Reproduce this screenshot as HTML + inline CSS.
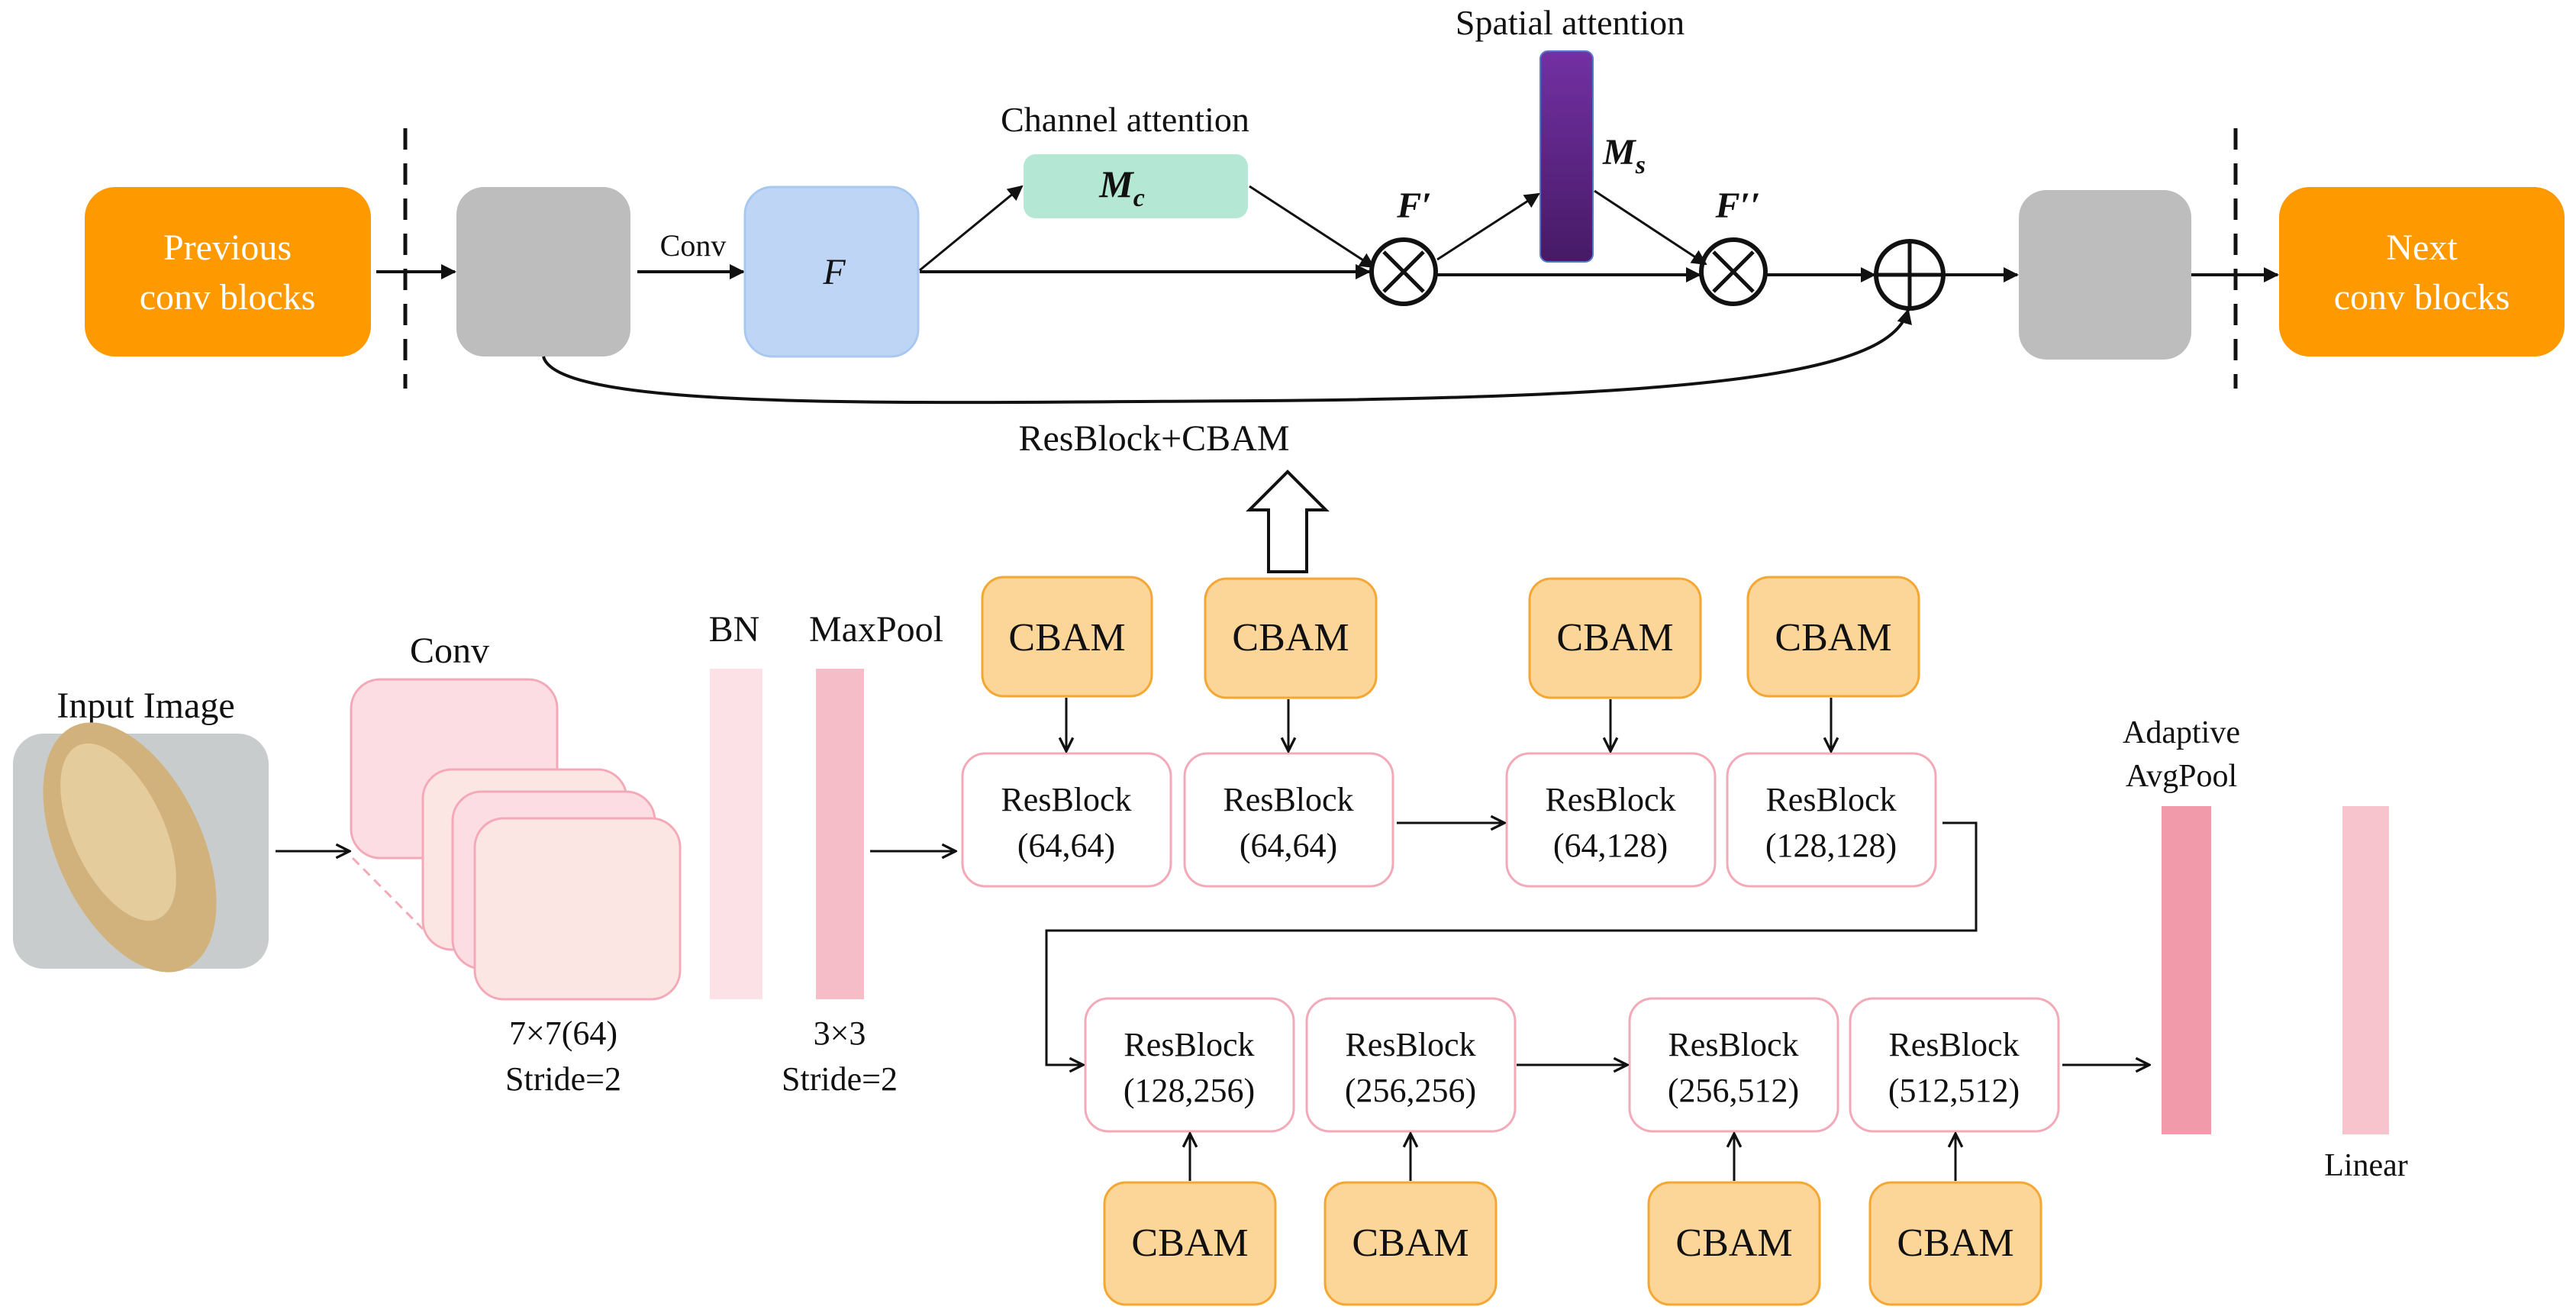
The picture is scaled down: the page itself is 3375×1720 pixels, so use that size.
<!DOCTYPE html>
<html><head><meta charset="utf-8"><style>
html,body{margin:0;padding:0;background:#fff;}
svg{display:block;font-family:"Liberation Serif","Times New Roman",serif;}
svg text{font-family:"Liberation Serif","Times New Roman",serif !important;fill:#111;}
</style></head><body>
<svg width="3375" height="1720" viewBox="0 0 3375 1720" xmlns="http://www.w3.org/2000/svg" font-family="Liberation Serif, Times New Roman, serif">
<defs>
<marker id="a" viewBox="0 0 10 10" refX="9" refY="5" markerWidth="20" markerHeight="20" markerUnits="userSpaceOnUse" orient="auto"><path d="M0,0 L10,5 L0,10 z" fill="#111"/></marker>
<marker id="o" viewBox="0 0 10 10" refX="9" refY="5" markerWidth="22" markerHeight="22" markerUnits="userSpaceOnUse" orient="auto"><path d="M1,1 L9,5 L1,9" fill="none" stroke="#111" stroke-width="1.5"/></marker>
<linearGradient id="pg" x1="0" y1="0" x2="0" y2="1"><stop offset="0" stop-color="#7330A3"/><stop offset="1" stop-color="#461A66"/></linearGradient>
</defs>

<!-- TOP -->
<rect x="111" y="245" width="375" height="222" rx="40" fill="#FF9900"/>
<text x="298" y="340" font-size="48" text-anchor="middle" style="fill:#fff" font-family="Liberation Serif, serif">Previous</text>
<text x="298" y="405" font-size="48" text-anchor="middle" style="fill:#fff" font-family="Liberation Serif, serif">conv blocks</text>
<line x1="531" y1="168" x2="531" y2="509" stroke="#111" stroke-width="5" stroke-dasharray="28,18"/>
<line x1="493" y1="356" x2="596" y2="356" stroke="#111" stroke-width="4" marker-end="url(#a)"/>
<rect x="598" y="245" width="228" height="222" rx="36" fill="#BDBDBD"/>
<text x="908" y="335" font-size="40" text-anchor="middle" font-family="Liberation Serif, serif">Conv</text>
<line x1="835" y1="356" x2="974" y2="356" stroke="#111" stroke-width="4" marker-end="url(#a)"/>
<rect x="976" y="245" width="227" height="222" rx="36" fill="#BFD5F5" stroke="#A9C8F0" stroke-width="3"/>
<text x="1093" y="372" font-size="48" font-style="italic" text-anchor="middle" font-family="Liberation Serif, serif">F</text>
<text x="1474" y="172" font-size="46" text-anchor="middle" font-family="Liberation Serif, serif">Channel attention</text>
<rect x="1341" y="202" width="294" height="84" rx="16" fill="#B5E8D4"/>
<text x="1470" y="258" font-size="50" font-weight="bold" font-style="italic" text-anchor="middle" font-family="Liberation Serif, serif">M<tspan font-size="34" dy="12">c</tspan></text>
<line x1="1205" y1="354" x2="1339" y2="244" stroke="#111" stroke-width="3" marker-end="url(#a)"/>
<line x1="1205" y1="356" x2="1794" y2="356" stroke="#111" stroke-width="4" marker-end="url(#a)"/>
<line x1="1637" y1="244" x2="1800" y2="350" stroke="#111" stroke-width="3" marker-end="url(#a)"/>
<text x="2057" y="45" font-size="46" text-anchor="middle" font-family="Liberation Serif, serif">Spatial attention</text>
<rect x="2018" y="67" width="69" height="276" rx="10" fill="url(#pg)" stroke="#5577cc" stroke-width="2"/>
<text x="2100" y="215" font-size="48" font-weight="bold" font-style="italic" font-family="Liberation Serif, serif">M<tspan font-size="34" dy="12">s</tspan></text>
<text x="1853" y="285" font-size="48" font-weight="bold" font-style="italic" text-anchor="middle" font-family="Liberation Serif, serif">F′</text>
<text x="2277" y="285" font-size="48" font-weight="bold" font-style="italic" text-anchor="middle" font-family="Liberation Serif, serif">F′′</text>
<g stroke="#111" stroke-width="6" fill="#fff">
<circle cx="1839" cy="356" r="42"/>
<circle cx="2271" cy="356" r="42"/>
<circle cx="2502" cy="360" r="44"/>
</g>
<g stroke="#111" stroke-width="5">
<line x1="1813" y1="330" x2="1865" y2="382"/><line x1="1865" y1="330" x2="1813" y2="382"/>
<line x1="2245" y1="330" x2="2297" y2="382"/><line x1="2297" y1="330" x2="2245" y2="382"/>
<line x1="2458" y1="360" x2="2546" y2="360"/><line x1="2502" y1="316" x2="2502" y2="404"/>
</g>
<line x1="1883" y1="340" x2="2016" y2="254" stroke="#111" stroke-width="3" marker-end="url(#a)"/>
<line x1="1883" y1="360" x2="2227" y2="360" stroke="#111" stroke-width="4" marker-end="url(#a)"/>
<line x1="2089" y1="250" x2="2235" y2="346" stroke="#111" stroke-width="3" marker-end="url(#a)"/>
<line x1="2315" y1="360" x2="2456" y2="360" stroke="#111" stroke-width="4" marker-end="url(#a)"/>
<line x1="2546" y1="360" x2="2643" y2="360" stroke="#111" stroke-width="4" marker-end="url(#a)"/>
<path d="M712,467 C730,540 1200,527 1650,525 C2300,520 2480,480 2500,406" fill="none" stroke="#111" stroke-width="4" marker-end="url(#a)"/>
<rect x="2645" y="249" width="226" height="222" rx="36" fill="#BDBDBD"/>
<line x1="2929" y1="168" x2="2929" y2="509" stroke="#111" stroke-width="5" stroke-dasharray="28,18"/>
<line x1="2871" y1="360" x2="2984" y2="360" stroke="#111" stroke-width="4" marker-end="url(#a)"/>
<rect x="2986" y="245" width="374" height="222" rx="40" fill="#FF9900"/>
<text x="3173" y="340" font-size="48" text-anchor="middle" style="fill:#fff" font-family="Liberation Serif, serif">Next</text>
<text x="3173" y="405" font-size="48" text-anchor="middle" style="fill:#fff" font-family="Liberation Serif, serif">conv blocks</text>
<text x="1512" y="590" font-size="48" text-anchor="middle" font-family="Liberation Serif, serif">ResBlock+CBAM</text>
<path d="M1662,749 L1662,668 L1637,668 L1687,618 L1737,668 L1712,668 L1712,749 Z" fill="#fff" stroke="#111" stroke-width="4"/>

<!-- BOTTOM LEFT -->
<text x="191" y="940" font-size="48" text-anchor="middle" font-family="Liberation Serif, serif">Input Image</text>
<rect x="17" y="961" width="335" height="308" rx="40" fill="#C8CCCC"/>
<ellipse cx="170" cy="1110" rx="95" ry="175" transform="rotate(-25 170 1110)" fill="#D2B27C"/>
<ellipse cx="155" cy="1090" rx="60" ry="125" transform="rotate(-25 155 1090)" fill="#E4CC9C"/>
<line x1="361" y1="1115" x2="458" y2="1115" stroke="#111" stroke-width="3" marker-end="url(#o)"/>
<text x="589" y="868" font-size="48" text-anchor="middle" font-family="Liberation Serif, serif">Conv</text>
<rect x="460" y="890" width="270" height="234" rx="38" fill="#FBDDE3" stroke="#F4A9B8" stroke-width="3"/>
<line x1="462" y1="1124" x2="554" y2="1217" stroke="#F4A9B8" stroke-width="3" stroke-dasharray="12,8"/>
<rect x="554" y="1008" width="267" height="236" rx="38" fill="#FCE6E4" stroke="#F4A9B8" stroke-width="3"/>
<rect x="593" y="1037" width="265" height="232" rx="38" fill="#FBDDE3" stroke="#F4A9B8" stroke-width="3"/>
<rect x="622" y="1072" width="269" height="237" rx="38" fill="#FCE6E4" stroke="#F4A9B8" stroke-width="3"/>
<text x="738" y="1368" font-size="44" text-anchor="middle" font-family="Liberation Serif, serif">7×7(64)</text>
<text x="738" y="1428" font-size="44" text-anchor="middle" font-family="Liberation Serif, serif">Stride=2</text>
<text x="962" y="840" font-size="48" text-anchor="middle" font-family="Liberation Serif, serif">BN</text>
<rect x="930" y="876" width="69" height="433" fill="#FCE1E6"/>
<text x="1148" y="840" font-size="48" text-anchor="middle" font-family="Liberation Serif, serif">MaxPool</text>
<rect x="1069" y="876" width="63" height="433" fill="#F4BDC8"/>
<text x="1100" y="1368" font-size="44" text-anchor="middle" font-family="Liberation Serif, serif">3×3</text>
<text x="1100" y="1428" font-size="44" text-anchor="middle" font-family="Liberation Serif, serif">Stride=2</text>
<line x1="1140" y1="1115" x2="1252" y2="1115" stroke="#111" stroke-width="3" marker-end="url(#o)"/>

<g fill="#FCD598" stroke="#F5A733" stroke-width="3">
<rect x="1287" y="756" width="222" height="156" rx="28"/>
<rect x="1579" y="758" width="224" height="156" rx="28"/>
<rect x="2004" y="758" width="224" height="156" rx="28"/>
<rect x="2290" y="756" width="224" height="156" rx="28"/>
<rect x="1447" y="1549" width="224" height="160" rx="28"/>
<rect x="1736" y="1549" width="224" height="160" rx="28"/>
<rect x="2160" y="1549" width="224" height="160" rx="28"/>
<rect x="2450" y="1549" width="224" height="160" rx="28"/>
</g>
<g font-size="52" text-anchor="middle" font-family="Liberation Serif, serif">
<text x="1398" y="852">CBAM</text><text x="1691" y="852">CBAM</text><text x="2116" y="852">CBAM</text><text x="2402" y="852">CBAM</text>
<text x="1559" y="1645">CBAM</text><text x="1848" y="1645">CBAM</text><text x="2272" y="1645">CBAM</text><text x="2562" y="1645">CBAM</text>
</g>
<g fill="#fff" stroke="#F4A9B8" stroke-width="3">
<rect x="1261" y="987" width="273" height="174" rx="30"/>
<rect x="1552" y="987" width="273" height="174" rx="30"/>
<rect x="1974" y="987" width="273" height="174" rx="30"/>
<rect x="2263" y="987" width="273" height="174" rx="30"/>
<rect x="1422" y="1308" width="273" height="174" rx="30"/>
<rect x="1712" y="1308" width="273" height="174" rx="30"/>
<rect x="2135" y="1308" width="273" height="174" rx="30"/>
<rect x="2424" y="1308" width="273" height="174" rx="30"/>
</g>
<g font-size="44" text-anchor="middle" font-family="Liberation Serif, serif">
<text x="1397" y="1062">ResBlock</text><text x="1397" y="1122">(64,64)</text>
<text x="1688" y="1062">ResBlock</text><text x="1688" y="1122">(64,64)</text>
<text x="2110" y="1062">ResBlock</text><text x="2110" y="1122">(64,128)</text>
<text x="2399" y="1062">ResBlock</text><text x="2399" y="1122">(128,128)</text>
<text x="1558" y="1383">ResBlock</text><text x="1558" y="1443">(128,256)</text>
<text x="1848" y="1383">ResBlock</text><text x="1848" y="1443">(256,256)</text>
<text x="2271" y="1383">ResBlock</text><text x="2271" y="1443">(256,512)</text>
<text x="2560" y="1383">ResBlock</text><text x="2560" y="1443">(512,512)</text>
</g>
<g stroke="#111" stroke-width="3" fill="none">
<line x1="1397" y1="914" x2="1397" y2="984" marker-end="url(#o)"/>
<line x1="1688" y1="916" x2="1688" y2="984" marker-end="url(#o)"/>
<line x1="2110" y1="916" x2="2110" y2="984" marker-end="url(#o)"/>
<line x1="2399" y1="914" x2="2399" y2="984" marker-end="url(#o)"/>
<line x1="1559" y1="1547" x2="1559" y2="1485" marker-end="url(#o)"/>
<line x1="1848" y1="1547" x2="1848" y2="1485" marker-end="url(#o)"/>
<line x1="2272" y1="1547" x2="2272" y2="1485" marker-end="url(#o)"/>
<line x1="2562" y1="1547" x2="2562" y2="1485" marker-end="url(#o)"/>
<line x1="1830" y1="1078" x2="1971" y2="1078" marker-end="url(#o)"/>
<polyline points="2545,1078 2589,1078 2589,1219 1371,1219 1371,1395 1419,1395" marker-end="url(#o)"/>
<line x1="1987" y1="1395" x2="2132" y2="1395" marker-end="url(#o)"/>
<line x1="2702" y1="1395" x2="2816" y2="1395" marker-end="url(#o)"/>
</g>
<text x="2858" y="973" font-size="42" text-anchor="middle" font-family="Liberation Serif, serif">Adaptive</text>
<text x="2858" y="1030" font-size="42" text-anchor="middle" font-family="Liberation Serif, serif">AvgPool</text>
<rect x="2832" y="1056" width="65" height="430" fill="#F09AAA"/>
<rect x="3069" y="1056" width="61" height="430" fill="#F7C3CD"/>
<text x="3100" y="1540" font-size="42" text-anchor="middle" font-family="Liberation Serif, serif">Linear</text>
</svg>
</body></html>
